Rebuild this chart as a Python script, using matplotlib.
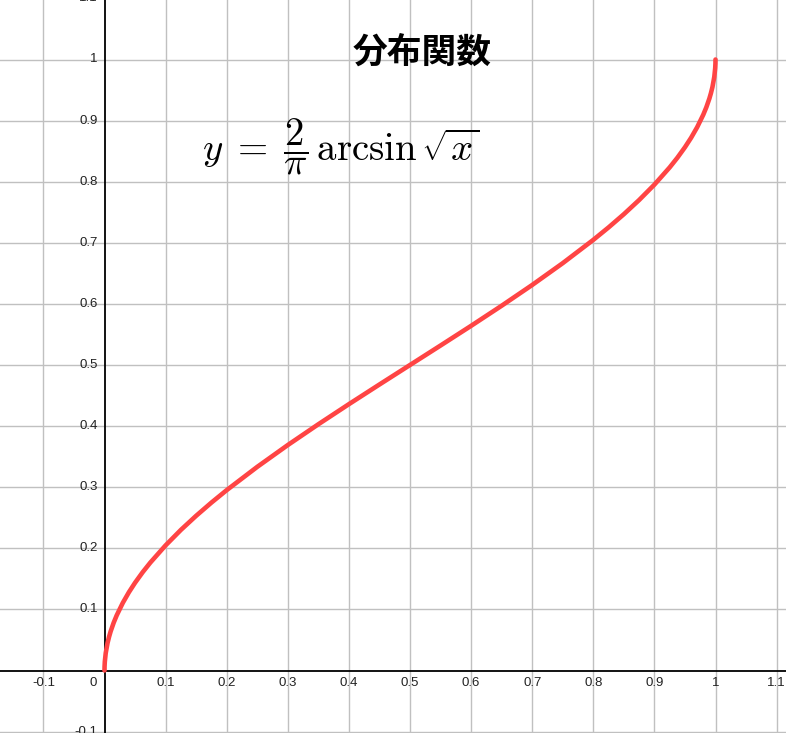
import matplotlib
matplotlib.use("Agg")
import matplotlib.pyplot as plt

plt.rcParams['mathtext.fontset'] = 'cm'

# curve samples (x, y)
curve_x = [0, 0.0001, 0.0005, 0.002, 0.005, 0.0075, 0.01, 0.015, 0.02, 0.03, 0.04, 0.05, 0.0625,
           0.075, 0.1, 0.125, 0.15, 0.175, 0.2,
           0.25, 0.3, 0.35, 0.4, 0.45, 0.5, 0.55, 0.6, 0.65, 0.7, 0.75, 0.8, 0.825, 0.85, 0.875,
           0.9, 0.925, 0.9375, 0.95, 0.96, 0.97, 0.98, 0.985, 0.99, 0.9925, 0.995, 0.998,
           0.9995, 0.9999, 1]
curve_y = [0, 0.0064, 0.0142, 0.0285, 0.0451, 0.0552, 0.0638, 0.0782, 0.0903, 0.1108, 0.1282,
           0.1436, 0.1609, 0.1766, 0.2048, 0.2301, 0.2532, 0.2748, 0.2952,
           0.3333, 0.3690, 0.4030, 0.4359, 0.4681, 0.5, 0.5319, 0.5641, 0.5970, 0.6310,
           0.6667, 0.7048, 0.7252, 0.7468, 0.7700, 0.7952, 0.8234, 0.8391, 0.8564, 0.8718,
           0.8892, 0.9097, 0.9218, 0.9362, 0.9448, 0.9549, 0.9715, 0.9858, 0.9936, 1]

x_ticks = [-0.1, 0.1, 0.2, 0.3, 0.4, 0.5, 0.6, 0.7, 0.8, 0.9, 1, 1.1]
x_tick_labels = ["-0.1", "0.1", "0.2", "0.3", "0.4", "0.5", "0.6", "0.7", "0.8", "0.9", "1", "1.1"]
y_ticks = [-0.1, 0.1, 0.2, 0.3, 0.4, 0.5, 0.6, 0.7, 0.8, 0.9, 1, 1.1]
y_tick_labels = ["-0.1", "0.1", "0.2", "0.3", "0.4", "0.5", "0.6", "0.7", "0.8", "0.9", "1", "1.1"]

title = "分布関数"
formula = r"$y\;=\;\dfrac{2}{\pi}\,\arcsin\sqrt{x}$"

W, H = 786, 733
fig = plt.figure(figsize=(W / 100, H / 100), dpi=100)
ax = fig.add_axes([0, 0, 1, 1])
x0, y0, s = 104.5, 670.5, 611.0
ax.set_xlim(-x0 / s, (W - x0) / s)
ax.set_ylim(-(H - y0) / s, y0 / s)
ax.axis('off')

grid_c = '#c0c0c0'
for v in x_ticks:
    ax.axvline(v, color=grid_c, lw=1, zorder=1)
for v in y_ticks:
    ax.axhline(v, color=grid_c, lw=1, zorder=1)
ax.axvline(0, color='black', lw=1.3, zorder=2)
ax.axhline(0, color='black', lw=1.3, zorder=2)

lab_font = dict(family='Liberation Sans', fontsize=9.5, color='#222222')
for v, t in zip(x_ticks, x_tick_labels):
    ax.text(v, -13 / s, t, ha='center', va='center', **lab_font)
for v, t in zip(y_ticks, y_tick_labels):
    ax.text(-7 / s, v, t, ha='right', va='center', **lab_font)
ax.text(-11.5 / s, -13 / s, "0", ha='center', va='center', **lab_font)

ax.plot(curve_x, curve_y, color='#ff4444', lw=3.3, solid_capstyle='round', zorder=3)

ax.text(422 / W, 1 - 52 / H, title, transform=ax.transAxes, ha='center', va='center',
        family=['Noto Sans CJK JP', 'DejaVu Sans'], fontsize=25, fontweight='bold', color='black')
ax.text(202 / W, 1 - 161 / H, formula, transform=ax.transAxes, ha='left', va='baseline',
        fontsize=28, color='black')

fig.savefig('out.png', dpi=100)
